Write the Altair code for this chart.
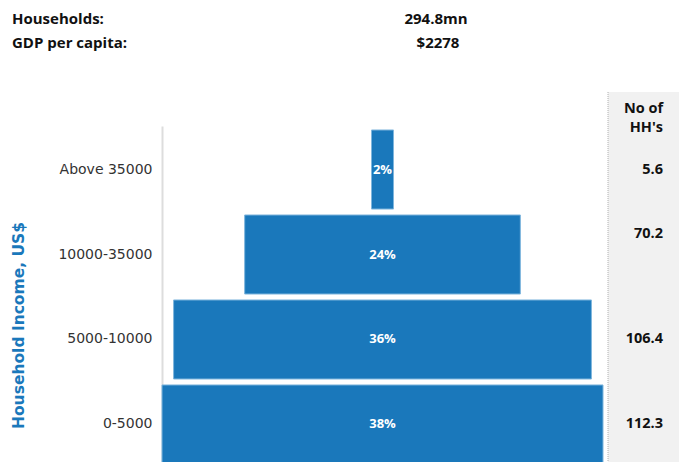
import altair as alt
import pandas as pd

categories = ["Above 35000", "10000-35000", "5000-10000", "0-5000"]
share_pct = [2, 24, 36, 38]
households_mn = [5.6, 70.2, 106.4, 112.3]
header_labels = ["Households:", "GDP per capita:"]
header_values = ["294.8mn", "$2278"]
panel_title = ["No of", "HH's"]

FONT = "Open Sans"
AXFONT = "DejaVu Sans"
BLUE = "#1a78bb"

df = pd.DataFrame({
    "cat": categories,
    "pct": share_pct,
    "hh": households_mn,
})
df["label"] = df["pct"].astype(str) + "%"
df["hh_label"] = df["hh"].map(lambda v: f"{v:.1f}")

half = max(households_mn) / 2

base = alt.Chart(df).transform_calculate(
    x0=f"{half} - datum.hh / 2",
    x1=f"{half} + datum.hh / 2",
    xc=f"{half}",
)

H = 342

yenc = alt.Y(
    "cat:N",
    sort=categories,
    scale=alt.Scale(paddingInner=0.07, paddingOuter=0.047),
    axis=alt.Axis(
        title="Household Income, US$",
        titleColor=BLUE,
        titleFont=AXFONT,
        titleFontSize=15.5,
        titleFontWeight="bold",
        titleAngle=270,
        titleAlign="center",
        titleBaseline="middle",
        titleX=-144,
        titleY=199,
        labelFont=AXFONT,
        labelFontSize=14,
        labelColor="#333333",
        labelPadding=10,
        ticks=False,
        domainColor="#dddddd",
        domainWidth=2,
        grid=False,
    ),
)

xscale = alt.Scale(domain=[0, 131.65], nice=False, zero=False)

one = pd.DataFrame({"a": [0]})

panel = alt.Chart(one).mark_rect(color="#f1f1f1").encode(
    x=alt.value(446), x2=alt.value(517), y=alt.value(-34), y2=alt.value(H)
)
panel_border = alt.Chart(one).mark_rule(color="#b0b0b0", strokeDash=[1, 1], strokeWidth=1).encode(
    x=alt.value(446), y=alt.value(-34), y2=alt.value(H)
)

bars = base.mark_bar(color=BLUE, stroke="#7fb6dd", strokeWidth=1).encode(
    x=alt.X("x0:Q", scale=xscale, axis=None),
    x2="x1:Q",
    y=yenc,
)

pct_text = base.mark_text(color="white", font=FONT, fontSize=13, fontWeight="bold").encode(
    x=alt.X("xc:Q", scale=xscale, axis=None),
    y=alt.Y("cat:N", sort=categories),
    text="label:N",
)

hh_main = base.transform_filter(alt.datum.cat != "10000-35000").mark_text(
    color="#111111", font=FONT, fontSize=14.5, fontWeight="bold", align="right"
).encode(
    x=alt.value(501),
    y=alt.Y("cat:N", sort=categories),
    text="hh_label:N",
)
hh_shift = base.transform_filter(alt.datum.cat == "10000-35000").mark_text(
    color="#111111", font=FONT, fontSize=14.5, fontWeight="bold", align="right", dy=-21
).encode(
    x=alt.value(501),
    y=alt.Y("cat:N", sort=categories),
    text="hh_label:N",
)

def txt(s, x, y, align, size=15, weight="bold"):
    return alt.Chart(one).mark_text(
        text=s, align=align, baseline="middle", font=FONT, fontSize=size,
        fontWeight=weight, color="#111111"
    ).encode(x=alt.value(x), y=alt.value(y))

headers = [
    txt(header_labels[0], -150, -107, "left"),
    txt(header_labels[1], -150, -83, "left"),
    txt(header_values[0], 274, -107, "center"),
    txt(header_values[1], 276, -83, "center"),
    txt(panel_title[0], 501, -17, "right", 14.5),
    txt(panel_title[1], 501, 2, "right", 14.5),
]

chart = alt.layer(
    panel, panel_border, bars, pct_text, hh_main, hh_shift, *headers
).properties(
    width=517,
    height=H,
    autosize=alt.AutoSizeParams(type="none"),
    padding={"left": 162, "top": 126, "right": 0, "bottom": 0},
    background="white",
).configure_view(stroke=None)

chart.save("out.html", embed_options={"renderer": "svg", "actions": False})
